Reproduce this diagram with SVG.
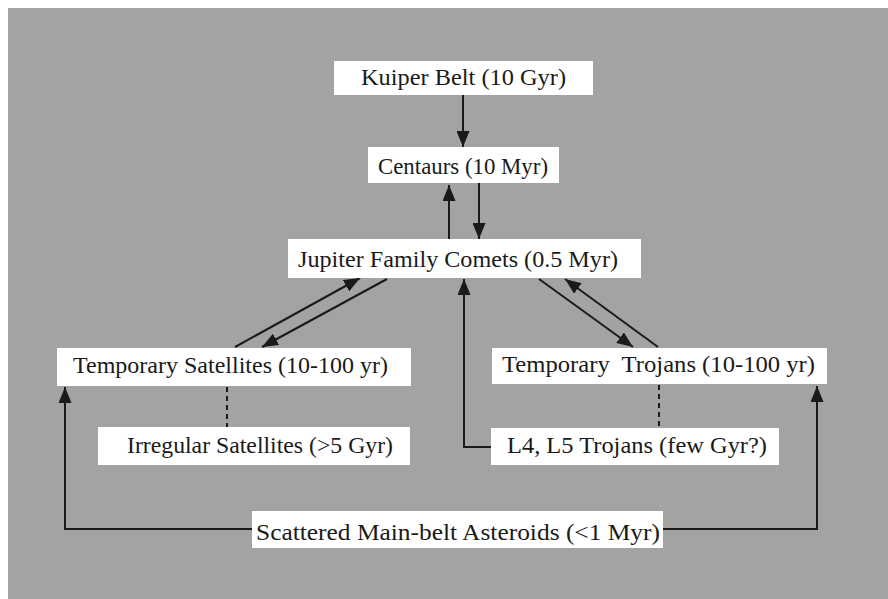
<svg xmlns="http://www.w3.org/2000/svg" width="888" height="599" viewBox="0 0 888 599">
<style>
.box{fill:#ffffff;stroke:none}
.lbl{font-family:"Liberation Serif","Times New Roman",serif;font-size:24px;fill:#1a1a1a}
.ln{stroke:#1a1a1a;stroke-width:2;fill:none}
.dash{stroke:#1a1a1a;stroke-width:2;fill:none;stroke-dasharray:5,4}
</style>
<defs>
<marker id="ah" markerUnits="userSpaceOnUse" markerWidth="17" markerHeight="13" refX="16" refY="6.5" orient="auto">
<path d="M0,0 L16,6.5 L0,13 z" fill="#1a1a1a"/>
</marker>
</defs>
<rect x="0" y="0" width="888" height="599" fill="#ffffff"/>
<rect x="8" y="8" width="880" height="591" fill="#a3a3a3"/>
<g id="connectors">
<line class="ln" x1="463" y1="95" x2="463" y2="147" marker-end="url(#ah)"/>
<line class="ln" x1="449" y1="239" x2="449" y2="185" marker-end="url(#ah)"/>
<line class="ln" x1="479" y1="183" x2="479" y2="239" marker-end="url(#ah)"/>
<line class="ln" x1="235" y1="347" x2="360" y2="278" marker-end="url(#ah)"/>
<line class="ln" x1="387" y1="279" x2="262" y2="347" marker-end="url(#ah)"/>
<line class="ln" x1="539" y1="279" x2="633" y2="347" marker-end="url(#ah)"/>
<line class="ln" x1="658" y1="347" x2="565" y2="279" marker-end="url(#ah)"/>
<path class="ln" d="M491,447 H464 V279" marker-end="url(#ah)"/>
<path class="ln" d="M252,529 H65 V387" marker-end="url(#ah)"/>
<path class="ln" d="M663,529 H817 V386" marker-end="url(#ah)"/>
<line class="dash" x1="227" y1="387" x2="227" y2="427"/>
<line class="dash" x1="659" y1="385" x2="659" y2="428"/>
</g>
<g id="kuiper"><rect class="box" x="334" y="61" width="259" height="34"/><text class="lbl" x="361" y="85" textLength="205" lengthAdjust="spacingAndGlyphs">Kuiper Belt (10 Gyr)</text></g>
<g id="centaurs"><rect class="box" x="368" y="147" width="191" height="36"/><text class="lbl" x="378" y="174" textLength="170" lengthAdjust="spacingAndGlyphs">Centaurs (10 Myr)</text></g>
<g id="jfc"><rect class="box" x="288" y="239" width="353" height="39"/><text class="lbl" x="298" y="267" textLength="320" lengthAdjust="spacingAndGlyphs">Jupiter Family Comets (0.5 Myr)</text></g>
<g id="tempsat"><rect class="box" x="57" y="348" width="354" height="38"/><text class="lbl" x="73" y="373" textLength="315" lengthAdjust="spacingAndGlyphs">Temporary Satellites (10-100 yr)</text></g>
<g id="irregular"><rect class="box" x="98" y="427" width="312" height="38"/><text class="lbl" x="127" y="453" textLength="266" lengthAdjust="spacingAndGlyphs">Irregular Satellites (&gt;5 Gyr)</text></g>
<g id="temptrojans"><rect class="box" x="492" y="348" width="335" height="36"/><text class="lbl" x="502" y="372" textLength="313" lengthAdjust="spacingAndGlyphs" xml:space="preserve">Temporary  Trojans (10-100 yr)</text></g>
<g id="l4l5"><rect class="box" x="491" y="428" width="288" height="37"/><text class="lbl" x="507" y="453" textLength="260" lengthAdjust="spacingAndGlyphs">L4, L5 Trojans (few Gyr?)</text></g>
<g id="scattered"><rect class="box" x="252" y="511" width="411" height="37"/><text class="lbl" x="256" y="540" textLength="404" lengthAdjust="spacingAndGlyphs">Scattered Main-belt Asteroids (&lt;1 Myr)</text></g>
</svg>
